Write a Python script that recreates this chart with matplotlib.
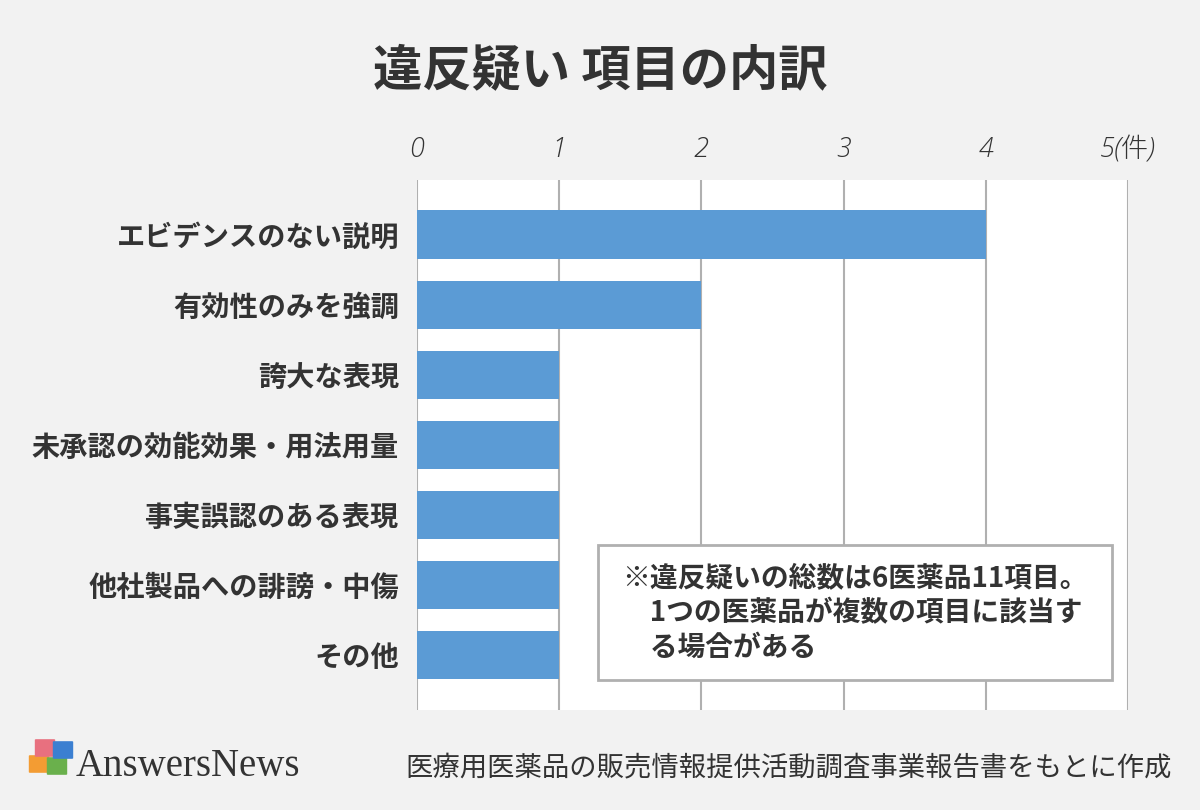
import matplotlib.pyplot as plt
from matplotlib.patches import Rectangle, FancyBboxPatch

plt.rcParams['font.family'] = ['Noto Sans CJK JP', 'DejaVu Sans']

# データ
categories = ['エビデンスのない説明', '有効性のみを強調', '誇大な表現',
              '未承認の効能効果・用法用量', '事実誤認のある表現',
              '他社製品への誹謗・中傷', 'その他']
counts = [4, 2, 1, 1, 1, 1, 1]
xticks = [0, 1, 2, 3, 4, 5]
xtick_labels = ['0', '1', '2', '3', '4', '5(件)']

bg = '#f2f2f2'
fig = plt.figure(figsize=(12, 8.1), dpi=100, facecolor=bg)
ax = fig.add_axes([0.3475, 0.1235, 0.5925, 0.6543])
ax.set_facecolor('white')

y = list(range(len(categories)))
ax.barh(y, counts, height=0.69, color='#5b9bd5', zorder=3)
ax.set_xlim(0, 5)
ax.set_ylim(6.78, -0.78)

ax.set_xticks(xticks)
ax.grid(axis='x', color='#b0b0b0', linewidth=1.5, zorder=1)
ax.xaxis.tick_top()
ax.set_xticklabels(xtick_labels, fontsize=19.5, style='italic', color='#333333',
                   fontweight='light', family=['Open Sans', 'Noto Sans CJK JP'])
ax.tick_params(axis='x', length=0, pad=12)
ax.set_yticks(y)
ax.set_yticklabels(categories, fontsize=20.3, fontweight='bold', color='#333333')
ax.tick_params(axis='y', length=0, pad=13)
for s in ax.spines.values():
    s.set_visible(False)

# タイトル
fig.text(0.5, 0.913, '違反疑い 項目の内訳', ha='center', va='center',
         fontsize=35.5, fontweight='bold', color='#333333')

# 注記ボックス
box = Rectangle((598 / 1200, 1 - 680 / 810), 514 / 1200, 135 / 810,
                transform=fig.transFigure, facecolor='white',
                edgecolor='#b0b0b0', linewidth=2, zorder=5)
fig.patches.append(box)
note_lines = ['※違反疑いの総数は6医薬品11項目。',
              '　1つの医薬品が複数の項目に該当す',
              '　る場合がある']
for i, line in enumerate(note_lines):
    fig.text(622 / 1200, 1 - (578 + 35 * i) / 810, line, ha='left', va='center',
             fontsize=20, fontweight='bold', color='#333333', zorder=6)

# フッター
fig.text(1172 / 1200, 1 - 768 / 810, '医療用医薬品の販売情報提供活動調査事業報告書をもとに作成',
         ha='right', va='center', fontsize=19.7, color='#333333')
fig.text(76 / 1200, 1 - 766 / 810, 'AnswersNews', ha='left', va='center',
         fontsize=28, family='Liberation Serif', color='#333333')
# ロゴ（パズル風）
logo = [(30, 772, '#f39c33'), (48, 774, '#6ab04c'), (36, 756, '#e8707f'), (54, 758, '#3b7fd1')]
for lx, ly, c in logo:
    p = FancyBboxPatch((lx / 1200, 1 - ly / 810), 18 / 1200, 16 / 810,
                       boxstyle='round,pad=0.001', transform=fig.transFigure,
                       facecolor=c, edgecolor='none')
    fig.patches.append(p)

fig.savefig('out.png', dpi=100, facecolor=bg)
